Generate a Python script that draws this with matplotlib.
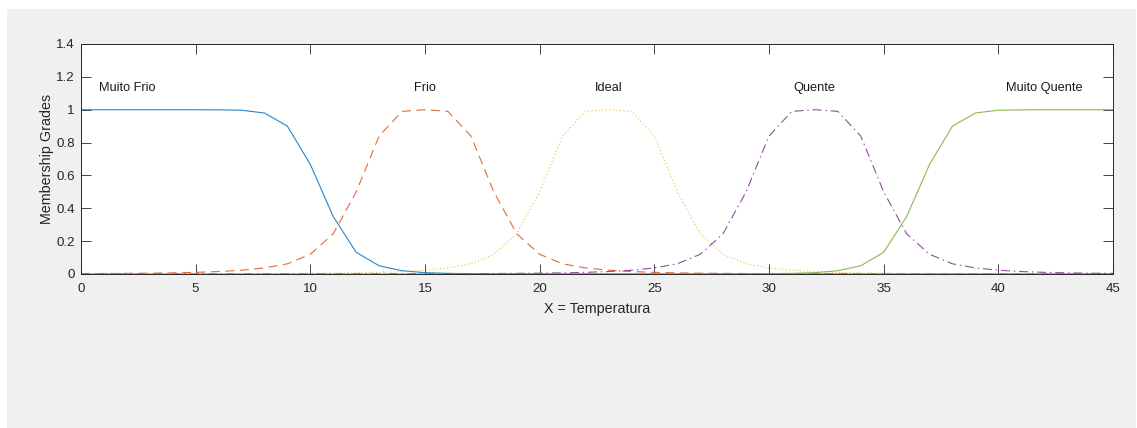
import matplotlib
matplotlib.use("Agg")
import matplotlib.pyplot as plt
from matplotlib.patches import Rectangle

# ---- data ----
x_vals = list(range(0, 46))

muito_frio = [1.0, 1.0, 1.0, 1.0, 1.0, 1.0, 0.999, 0.997, 0.98, 0.90,
              0.667, 0.349, 0.132, 0.05, 0.02, 0.008, 0.004, 0.002, 0.001, 0.001,
              0.0005, 0.0, 0.0, 0.0, 0.0, 0.0, 0.0, 0.0, 0.0, 0.0,
              0.0, 0.0, 0.0, 0.0, 0.0, 0.0, 0.0, 0.0, 0.0, 0.0,
              0.0, 0.0, 0.0, 0.0, 0.0, 0.0]

frio = [0.0025, 0.003, 0.004, 0.005, 0.007, 0.01, 0.015, 0.023, 0.037, 0.062,
        0.12, 0.245, 0.5, 0.84, 0.99, 1.0, 0.99, 0.84, 0.5, 0.245,
        0.12, 0.062, 0.037, 0.023, 0.015, 0.01, 0.007, 0.005, 0.004, 0.003,
        0.0025, 0.002, 0.0018, 0.0015, 0.0013, 0.0011, 0.001, 0.001, 0.0009, 0.0008,
        0.0007, 0.0007, 0.0006, 0.0006, 0.0005, 0.0005]

ideal = [0.0008, 0.0009, 0.001, 0.0011, 0.0013, 0.0015, 0.0018, 0.002, 0.0025, 0.003,
         0.004, 0.005, 0.007, 0.01, 0.015, 0.023, 0.037, 0.062, 0.12, 0.245,
         0.5, 0.84, 0.99, 1.0, 0.99, 0.84, 0.5, 0.245, 0.12, 0.062,
         0.037, 0.023, 0.015, 0.01, 0.007, 0.005, 0.004, 0.003, 0.0025, 0.002,
         0.0018, 0.0015, 0.0013, 0.0011, 0.001, 0.001]

quente = [0.0004, 0.0004, 0.0004, 0.0004, 0.0005, 0.0005, 0.0006, 0.0006, 0.0007, 0.0008,
          0.0009, 0.001, 0.0011, 0.0013, 0.0015, 0.0018, 0.002, 0.0025, 0.003, 0.004,
          0.005, 0.007, 0.01, 0.015, 0.023, 0.037, 0.062, 0.12, 0.245, 0.5,
          0.84, 0.99, 1.0, 0.99, 0.84, 0.5, 0.245, 0.12, 0.062, 0.037,
          0.023, 0.015, 0.01, 0.007, 0.005, 0.004]

muito_quente = [0.0, 0.0, 0.0, 0.0, 0.0, 0.0, 0.0, 0.0, 0.0, 0.0,
                0.0, 0.0, 0.0, 0.0, 0.0, 0.0, 0.0, 0.0, 0.0, 0.0,
                0.0, 0.0, 0.0, 0.0, 0.0, 0.0, 0.0, 0.0005, 0.001, 0.001,
                0.002, 0.004, 0.008, 0.02, 0.05, 0.132, 0.349, 0.667, 0.90, 0.98,
                0.997, 0.999, 1.0, 1.0, 1.0, 1.0]

mf_names = ["Muito Frio", "Frio", "Ideal", "Quente", "Muito Quente"]
label_x = [2, 15, 23, 32, 42]
label_y = 1.115

x_ticks = [0, 5, 10, 15, 20, 25, 30, 35, 40, 45]
y_ticks = [0, 0.2, 0.4, 0.6, 0.8, 1, 1.2, 1.4]
y_ticklabels = ["0", "0.2", "0.4", "0.6", "0.8", "1", "1.2", "1.4"]

# ---- figure ----
W, H = 1137, 428
fig = plt.figure(figsize=(W / 100, H / 100), dpi=100, facecolor="white")
fig.patches.append(Rectangle((7 / W, 0), (1136 - 7) / W, (H - 9) / H,
                             transform=fig.transFigure, facecolor="#f0f0f0",
                             edgecolor="none", zorder=-10))

ax = fig.add_axes([81 / W, (H - 274) / H, (1113 - 81) / W, (274 - 44) / H])
ax.set_facecolor("white")

font = "Liberation Sans"
lw = 0.8
series = [muito_frio, frio, ideal, quente, muito_quente]
colors = ["#0072BD", "#D95319", "#EDB120", "#7E2F8E", "#77AC30"]
dashes = [None, (8, 5), (1, 2.2), (8, 3.5, 1.3, 3.5), None]
for ys, c, d in zip(series, colors, dashes):
    line, = ax.plot(x_vals, ys, color=c, lw=lw, alpha=0.85, solid_joinstyle="round")
    if d is not None:
        line.set_dashes(d)

for name, lx in zip(mf_names, label_x):
    ax.text(lx, label_y, name, ha="center", va="baseline", fontsize=9.2,
            family=font, color="#1a1a1a")

ax.set_xlim(0, 45)
ax.set_ylim(0, 1.4)
ax.set_xticks(x_ticks)
ax.set_yticks(y_ticks)
ax.set_yticklabels(y_ticklabels)
for lab in ax.get_xticklabels() + ax.get_yticklabels():
    lab.set_family(font)
ax.tick_params(direction="in", length=7, width=0.6, colors="#262626",
               labelsize=9.6, top=True, right=True, pad=4.5)
ax.tick_params(axis="x", pad=6.8)
for s in ax.spines.values():
    s.set_color("#262626")
    s.set_linewidth(0.7)

ax.set_xlabel("X = Temperatura", family=font, fontsize=10.3, color="#262626", labelpad=4.5)
ax.set_ylabel("Membership Grades", family=font, fontsize=10.3, color="#262626", labelpad=1.5)

fig.savefig("out.png", dpi=100, facecolor=fig.get_facecolor())
